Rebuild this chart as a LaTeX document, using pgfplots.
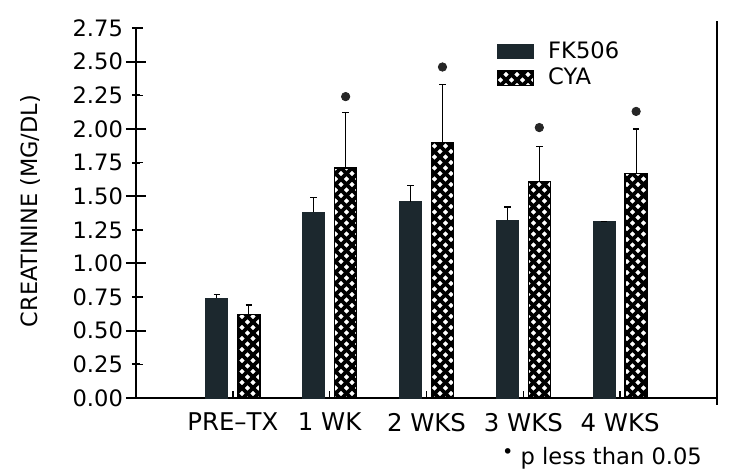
\documentclass[border=0pt]{standalone}
\usepackage{fontspec}
\setmainfont{DejaVu Sans}
\usepackage{pgfplots}
\pgfplotsset{compat=1.18}
\usetikzlibrary{patterns.meta}
\definecolor{fkcol}{RGB}{28,40,46}
\tikzdeclarepattern{
  name=cyahatch,
  type=uncolored,
  bottom left={(-.1pt,-.1pt)},
  top right={(5.6pt,5.6pt)},
  tile size={(5.5pt,5.5pt)},
  code={
    \draw[line width=1.8pt] (0,0) -- (5.5pt,5.5pt) (0,5.5pt) -- (5.5pt,0);
  }
}
\begin{document}
\begin{tikzpicture}[font=\fontsize{11.3}{13}\selectfont]
\path[use as bounding box] (-68pt,-39pt) rectangle (296.5pt,199pt);
\begin{axis}[
  scale only axis,
  width=290.5pt, height=185pt,
  at={(0,0)}, anchor=south west,
  xmin=0, xmax=6, ymin=0, ymax=2.75,
  axis x line*=bottom, axis y line*=left,
  axis line style={line width=0.8pt, black},
  every tick/.style={black, line width=0.7pt},
  clip=false,
  ybar, bar width=11pt,
  xtick={1,2,3,4,5},
  xticklabels={PRE–TX, 1 WK, 2 WKS, 3 WKS, 4 WKS},
  xtick align=inside,
  major tick length=3.5pt,
  xticklabel style={yshift=-4pt, font=\fontsize{12.2}{14}\selectfont},
  ytick={0,0.25,...,2.75},
  /pgf/number format/fixed,
  /pgf/number format/fixed zerofill,
  /pgf/number format/precision=2,
  /pgf/number format/assume math mode=true,
  yticklabel style={xshift=-3pt},
  legend style={at={(rel axis cs:0.62,0.975)}, anchor=north west, draw=none, fill=none, row sep=-0.6pt, inner sep=0pt},
  legend cell align=left,
  legend image code/.code={\draw[#1] (0pt,-3.6pt) rectangle (18pt,3.6pt); \path (23pt,0pt);},
  error bars/y dir=plus, error bars/y explicit,
  error bars/error bar style={line width=0.6pt, black},
  error bars/error mark options={rotate=90, mark size=1.6pt, line width=0.7pt, black},
]
\addplot[fill=fkcol, draw=fkcol, bar shift=-8pt] coordinates {
  (1,0.74) +- (0,0.03)
  (2,1.38) +- (0,0.11)
  (3,1.46) +- (0,0.12)
  (4,1.32) +- (0,0.10)
  (5,1.31) +- (0,0.0)
};
\addlegendentry{FK506}
\addplot[pattern=cyahatch, pattern color=black, draw=black, line width=0.8pt, bar shift=8pt] coordinates {
  (1,0.62) +- (0,0.07)
  (2,1.71) +- (0,0.41)
  (3,1.90) +- (0,0.43)
  (4,1.61) +- (0,0.26)
  (5,1.67) +- (0,0.33)
};
\addlegendentry{CYA}
\addplot[only marks, mark=*, mark size=2.1pt, fill=black!85, draw=black!85, forget plot, error bars/y dir=none] coordinates {
  (2.165,2.24) (3.165,2.46) (4.165,2.01) (5.165,2.13)
};
\pgfplotsinvokeforeach{0,0.5,1,1.5,2,2.5}{
  \draw[line width=1pt, black] ([xshift=-5pt]axis cs:0,#1) -- ([xshift=5pt]axis cs:0,#1);
}
\pgfplotsinvokeforeach{0.25,0.75,1.25,1.75,2.25,2.75}{
  \draw[line width=1pt, black] ([xshift=-2pt]axis cs:0,#1) -- ([xshift=2pt]axis cs:0,#1);
}
\draw[line width=0.8pt] (rel axis cs:1,0) -- (rel axis cs:1,1.02);
\draw[line width=0.7pt] (rel axis cs:1,0) -- ++(0,-3.5pt);
\node[anchor=center] at (rel axis cs:0.802,-0.162) {\raisebox{0.45ex}{\scalebox{0.85}{\textbullet}} p less than 0.05};
\node[rotate=90, anchor=center, font=\fontsize{11.2}{13}\selectfont] at ([xshift=-53pt]rel axis cs:0,0.505) {CREATININE (MG/DL)};
\end{axis}
\end{tikzpicture}
\end{document}
